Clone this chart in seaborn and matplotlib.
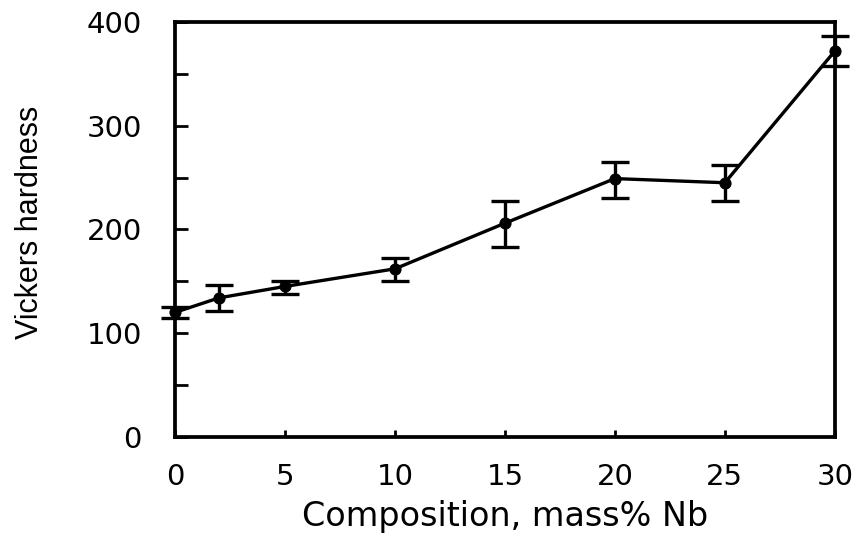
import matplotlib
matplotlib.use("Agg")
import matplotlib.pyplot as plt
import seaborn as sns
import pandas as pd
from matplotlib.ticker import MultipleLocator

sns.set_style("ticks")
plt.rcParams["font.family"] = ["DejaVu Sans"]
plt.rcParams["text.color"] = "black"
plt.rcParams["axes.labelcolor"] = "black"
plt.rcParams["xtick.color"] = "black"
plt.rcParams["ytick.color"] = "black"

# values
composition = [0, 2, 5, 10, 15, 20, 25, 30]
hardness = [120, 134, 145, 162, 206, 249, 245, 372]
err_low = [5, 13, 7, 12, 23, 19, 18, 14]
err_high = [5, 12, 5, 10, 21, 16, 17, 14]

df = pd.DataFrame({"Composition": composition, "Hardness": hardness})

fig = plt.figure(figsize=(8.58, 5.36), dpi=100)
ax = fig.add_axes([0.204, 0.185, 0.769, 0.774])

eb = ax.errorbar(composition, hardness, yerr=[err_low, err_high], fmt="none",
                 ecolor="black", elinewidth=2.4, capsize=10, capthick=2.4, zorder=2)
for artist in eb.lines[1] + eb.lines[2]:
    artist.set_clip_on(False)

sns.lineplot(data=df, x="Composition", y="Hardness", ax=ax, color="black",
             linewidth=2.4, marker="o", markersize=8, markeredgecolor="black",
             clip_on=False, zorder=3)

ax.set_xlim(0, 30)
ax.set_ylim(0, 400)
ax.set_xticks([0, 5, 10, 15, 20, 25, 30])
ax.set_yticks([0, 100, 200, 300, 400])
ax.yaxis.set_minor_locator(MultipleLocator(50))

ax.tick_params(axis="both", which="both", direction="in", width=2,
               labelsize=21, top=False, right=False)
ax.tick_params(axis="y", which="both", length=9, pad=24)
ax.tick_params(axis="x", length=5, pad=19)

for side in ["top", "bottom", "left", "right"]:
    ax.spines[side].set_visible(True)
    ax.spines[side].set_linewidth(2.7)
    ax.spines[side].set_color("black")

ax.set_xlabel("Composition, mass% Nb", fontsize=24, labelpad=6)
ax.set_ylabel("Vickers hardness", fontsize=22,
              family=["Liberation Sans Narrow", "Liberation Sans", "DejaVu Sans"])
ax.yaxis.set_label_coords(-0.197, 0.518)

fig.savefig("out.png", dpi=100)
